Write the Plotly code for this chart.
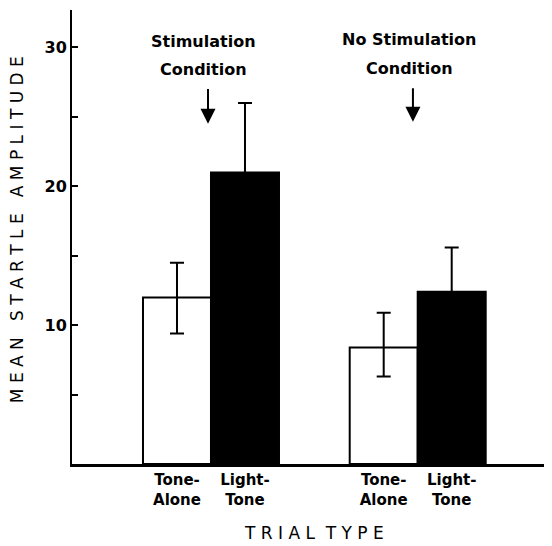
import plotly.graph_objects as go

# Data
conditions = ["Stimulation", "No Stimulation"]
condition_word = "Condition"
trial_types = ["Tone-<br>Alone", "Light-<br>Tone"]
tone_alone_mean = [12.0, 8.4]
tone_alone_upper = [14.5, 10.9]
tone_alone_lower = [9.4, 6.3]
light_tone_mean = [21.0, 12.4]
light_tone_upper = [26.0, 15.6]
light_tone_lower = [16.0, 9.2]
y_ticks = [5, 10, 15, 20, 25, 30]
y_tick_labels = ["", "10", "", "20", "", "30"]
x_title = "T R I A L  T Y P E"
y_title = "M E A N   S T A R T L E   A M P L I T U D E"

# layout positions (bar slots)
group_x = [1.0, 4.04]
xa = [g for g in group_x]
xl = [g + 1.0 for g in group_x]

fig = go.Figure()
fig.add_trace(go.Bar(
    x=xa, y=tone_alone_mean, width=1.0,
    marker=dict(color="white", line=dict(color="black", width=2)),
    error_y=dict(type="data", symmetric=False,
                 array=[u - m for u, m in zip(tone_alone_upper, tone_alone_mean)],
                 arrayminus=[m - l for l, m in zip(tone_alone_lower, tone_alone_mean)],
                 color="black", thickness=2, width=7),
    showlegend=False,
))
fig.add_trace(go.Bar(
    x=xl, y=light_tone_mean, width=1.0,
    marker=dict(color="black", line=dict(color="black", width=2)),
    error_y=dict(type="data", symmetric=False,
                 array=[u - m for u, m in zip(light_tone_upper, light_tone_mean)],
                 arrayminus=[m - l for l, m in zip(light_tone_lower, light_tone_mean)],
                 color="black", thickness=2, width=7),
    showlegend=False,
))

FB = "DejaVu Sans"
annotations = []
text_x = [1.39, 4.415]
text_y1 = [30.46, 30.6]
text_y2 = [28.44, 28.5]
arrow_x = [1.456, 4.47]
arrow_top = [27.11, 27.18]
arrow_tip = [24.51, 24.66]
for i, cond in enumerate(conditions):
    annotations.append(dict(
        x=text_x[i], y=text_y1[i], xref="x", yref="y", text="<b>" + cond + "</b>",
        showarrow=False, font=dict(family=FB, size=16, color="black"),
        xanchor="center", yanchor="middle"))
    annotations.append(dict(
        x=text_x[i], y=text_y2[i], xref="x", yref="y", text="<b>" + condition_word + "</b>",
        showarrow=False, font=dict(family=FB, size=16, color="black"),
        xanchor="center", yanchor="middle"))
    annotations.append(dict(
        x=arrow_x[i], y=arrow_tip[i], ax=arrow_x[i], ay=arrow_top[i],
        xref="x", yref="y", axref="x", ayref="y",
        text="", showarrow=True, arrowhead=2, arrowsize=1.5, arrowwidth=2,
        arrowcolor="black", standoff=0))

# axis titles
annotations.append(dict(
    x=0.504, y=0, xref="paper", yref="paper", yshift=-69, text=x_title,
    showarrow=False, font=dict(family=FB, size=17, color="black"),
    xanchor="center", yanchor="middle"))
annotations.append(dict(
    x=0, y=0.515, xref="paper", yref="paper", xshift=-55, text=y_title,
    textangle=-90, showarrow=False, font=dict(family=FB, size=17, color="black"),
    xanchor="center", yanchor="middle"))

fig.update_layout(
    width=544, height=538,
    margin=dict(l=64, r=0, t=2, b=82),
    paper_bgcolor="white", plot_bgcolor="white",
    barmode="overlay",
    annotations=annotations,
    xaxis=dict(
        range=[-0.544, 6.515],
        tickvals=xa + xl,
        ticktext=["<b>" + trial_types[0] + "</b>"] * 2 + ["<b>" + trial_types[1] + "</b>"] * 2,
        tickfont=dict(family=FB, size=15, color="black"),
        showline=True, linecolor="black", linewidth=3,
        ticks="", showgrid=False, zeroline=False,
    ),
    yaxis=dict(
        range=[0, 32.7],
        tickvals=y_ticks, ticktext=y_tick_labels,
        tickfont=dict(family=FB, size=16, color="black", weight="bold"),
        ticks="inside", ticklen=6, tickwidth=2, tickcolor="black",
        showline=True, linecolor="black", linewidth=2,
        showgrid=False, zeroline=False,
    ),
)

fig.write_html("out.html")
